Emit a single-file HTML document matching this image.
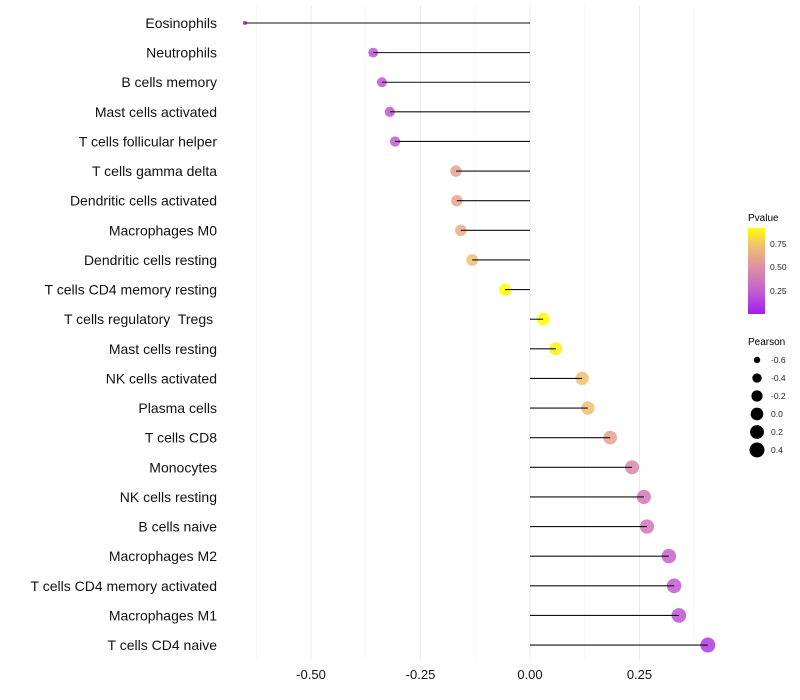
<!DOCTYPE html>
<html><head><meta charset="utf-8"><style>
body{margin:0;background:#fff;}
svg{display:block;font-family:"Liberation Sans",sans-serif;}
text{white-space:pre;}
</style></head><body>
<svg id="chart" width="800" height="700" xmlns="http://www.w3.org/2000/svg">
<defs>
<linearGradient id="pgrad" x1="0" y1="1" x2="0" y2="0">
<stop offset="0" stop-color="#A020F0"/>
<stop offset="0.27" stop-color="#C45ECC"/>
<stop offset="0.54" stop-color="#DD90A4"/>
<stop offset="0.8" stop-color="#F0C072"/>
<stop offset="1" stop-color="#FFFF00"/>
</linearGradient>
</defs>
<g id="grid"></g>
<g id="marks"></g>
<g id="ylab"></g>
<g id="xlab"></g>
<g>
<text x="748" y="221" font-size="10">Pvalue</text>
<rect x="748" y="228" width="17" height="86" fill="url(#pgrad)"/>
<text x="770" y="247" font-size="8.5" fill="#222">0.75</text>
<text x="770" y="270" font-size="8.5" fill="#222">0.50</text>
<text x="770" y="294" font-size="8.5" fill="#222">0.25</text>
</g>
<g id="sizeleg">
<text x="748" y="345" font-size="10">Pearson</text>
</g>
</svg>
<script>
const categories=["Eosinophils","Neutrophils","B cells memory","Mast cells activated","T cells follicular helper","T cells gamma delta","Dendritic cells activated","Macrophages M0","Dendritic cells resting","T cells CD4 memory resting","T cells regulatory  Tregs ","Mast cells resting","NK cells activated","Plasma cells","T cells CD8","Monocytes","NK cells resting","B cells naive","Macrophages M2","T cells CD4 memory activated","Macrophages M1","T cells CD4 naive"];
const pearson=[-0.651,-0.358,-0.338,-0.320,-0.308,-0.169,-0.167,-0.158,-0.132,-0.057,0.030,0.059,0.119,0.132,0.183,0.233,0.260,0.267,0.317,0.329,0.340,0.406];
const pvalue=[0.0,0.2,0.21,0.22,0.23,0.6,0.6,0.63,0.72,0.93,0.92,0.88,0.74,0.72,0.58,0.45,0.38,0.36,0.26,0.23,0.2,0.1];
const xTicks=[-0.5,-0.25,0,0.25];
const xTickLabels=["-0.50","-0.25","0.00","0.25"];
const sizeLegendValues=[-0.6,-0.4,-0.2,0.0,0.2,0.4];
const sizeLegendLabels=["-0.6","-0.4","-0.2","0.0","0.2","0.4"];

const NS="http://www.w3.org/2000/svg";
const X=v=>530+v*438;
const Y=i=>23+i*29.62;
const pmin=0,pmax=0.92;
const cstops=[[0,[160,32,240]],[0.27,[196,94,204]],[0.54,[221,144,164]],[0.8,[240,192,114]],[1,[255,255,0]]];
function color(p){let t=Math.max(0,Math.min(1,(p-pmin)/(pmax-pmin)));
 for(let k=1;k<cstops.length;k++){if(t<=cstops[k][0]){const a=cstops[k-1],b=cstops[k];const u=(t-a[0])/(b[0]-a[0]);
 return "rgb("+a[1].map((c,j)=>Math.round(c+(b[1][j]-c)*u)).join(",")+")";}}return "rgb(255,255,0)";}
const smin=Math.min(...pearson),smax=Math.max(...pearson);
function rad(v){const t=Math.max(0,(v-smin)/(smax-smin));return 2+5.5*Math.sqrt(t);}
function mk(tag,attrs,parent){const e=document.createElementNS(NS,tag);for(const k in attrs)e.setAttribute(k,attrs[k]);parent.appendChild(e);return e;}

const grid=document.getElementById('grid');
for(let v=-0.625;v<=0.376;v+=0.125){
 const major=xTicks.some(t=>Math.abs(t-v)<1e-6);
 const l=mk('line',{x1:X(v),x2:X(v),y1:5,y2:660,stroke:major?'#ebebeb':'#f2f2f2','stroke-width':major?1:0.7},grid);
 
 
}
const marks=document.getElementById('marks');
const ylab=document.getElementById('ylab');
categories.forEach((c,i)=>{
 const y=Y(i);
 const pt=mk('circle',{cx:X(pearson[i]),cy:y,r:rad(pearson[i]),fill:color(pvalue[i]),'fill-opacity':0.85},marks);
 
 
 const ln=mk('line',{x1:X(0),x2:X(pearson[i]),y1:y,y2:y,stroke:'#111','stroke-width':1.1},marks);
 
 
 const t=mk('text',{x:217,y:y+5,'text-anchor':'end','font-size':14,fill:'#111'},ylab);
 t.textContent=c;
 
 
});
const xlab=document.getElementById('xlab');
xTicks.forEach((v,i)=>{
 const t=mk('text',{x:X(v),y:679,'text-anchor':'middle','font-size':13,fill:'#111'},xlab);
 t.textContent=xTickLabels[i];
 
 
});
const sl=document.getElementById('sizeleg');
sizeLegendValues.forEach((v,i)=>{
 const y=360+i*18;
 const c=mk('circle',{cx:757,cy:y,r:rad(v),fill:'#000'},sl);
 
 
 const t=mk('text',{x:771,y:y+3,'font-size':8.5,fill:'#222'},sl);
 t.textContent=sizeLegendLabels[i];
 
 
});
</script>
</body></html>
